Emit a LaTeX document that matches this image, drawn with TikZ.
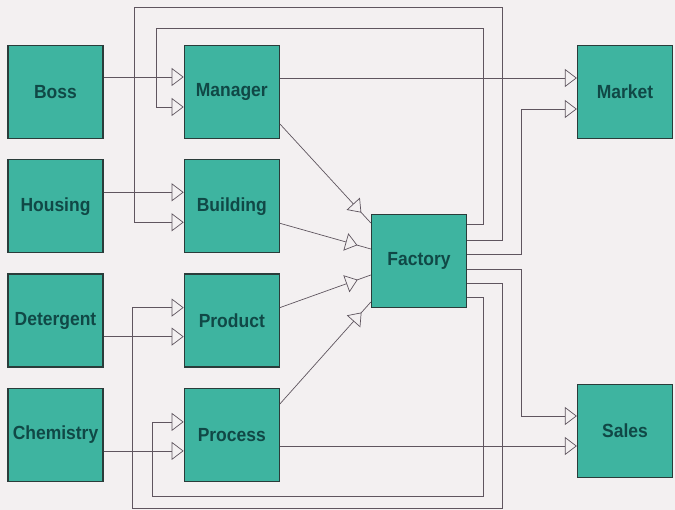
\documentclass[tikz,border=0pt]{standalone}
\usepackage{fontspec}
\setmainfont{Liberation Sans}[FakeStretch=0.92]
\usepackage{xcolor}
\usepackage{tikz}
\usetikzlibrary{arrows.meta,positioning,decorations.markings}

\definecolor{boxfill}{RGB}{62,180,160}
\definecolor{boxtext}{RGB}{16,72,70}
\definecolor{boxline}{RGB}{42,60,58}
\definecolor{paper}{RGB}{243,240,241}
\definecolor{wire}{RGB}{95,85,95}

\begin{document}
\begin{tikzpicture}[x=1pt, y=-1pt, node distance=20pt and 80pt,
    unit/.style={draw=boxline, line width=1.3pt, fill=boxfill, rectangle,
        minimum width=95pt, minimum height=93pt, inner sep=0pt,
        text=boxtext, font=\bfseries\fontsize{19}{20}\selectfont},
    inarr/.style={draw=wire, line width=0.7pt,
        -{Triangle[length=12pt, width=18pt, fill=paper]}},
    midarr/.style={draw=wire, line width=0.7pt, postaction={decorate},
        decoration={markings, mark=at position -14pt with
            {\arrow{Triangle[length=12pt, width=18pt, color=wire, fill=paper]}}}}]
    \fill[paper] (0,0) rectangle (675,510);
    \useasboundingbox (0,0) rectangle (675,510);

    \node[unit] (boss) at (55.5,92) {Boss};
    \node[unit, below=of boss] (housing) {Housing};
    \node[unit, below=of housing] (detergent) {Detergent};
    \node[unit, below=of detergent] (chemistry) {Chemistry};

    \node[unit, right=of boss] (manager) {Manager};
    \node[unit, right=of housing] (building) {Building};
    \node[unit, right=of detergent] (product) {Product};
    \node[unit, right=of chemistry] (process) {Process};

    \node[unit] (factory) at (419,261) {Factory};
    \node[unit] (market) at (625,92) {Market};
    \node[unit] (sales) at (625,431) {Sales};

    % input points
    \coordinate (mgr1) at ([yshift=15pt]manager.west);
    \coordinate (mgr2) at ([yshift=-15pt]manager.west);
    \coordinate (bld1) at ([yshift=14pt]building.west);
    \coordinate (bld2) at ([yshift=-16pt]building.west);
    \coordinate (prd1) at ([yshift=13pt]product.west);
    \coordinate (prd2) at ([yshift=-16pt]product.west);
    \coordinate (prc1) at ([yshift=13pt]process.west);
    \coordinate (prc2) at ([yshift=-16pt]process.west);
    \coordinate (mkt1) at ([yshift=14pt]market.west);
    \coordinate (mkt2) at ([yshift=-17pt]market.west);
    \coordinate (sal1) at ([yshift=15pt]sales.west);
    \coordinate (sal2) at ([yshift=-15pt]sales.west);

    % factory outputs
    \coordinate (f1) at ([yshift=37pt]factory.east);
    \coordinate (f2) at ([yshift=21pt]factory.east);
    \coordinate (f3) at ([yshift=7pt]factory.east);
    \coordinate (f4) at ([yshift=-8pt]factory.east);
    \coordinate (f5) at ([yshift=-22pt]factory.east);
    \coordinate (f6) at ([yshift=-36pt]factory.east);

    \draw[inarr] (boss.east |- mgr1) -- (mgr1);
    \draw[inarr] (housing.east |- bld1) -- (bld1);
    \draw[inarr] (detergent.east |- prd2) -- (prd2);
    \draw[inarr] (chemistry.east |- prc2) -- (prc2);

    \draw[inarr] (manager.east |- mkt1) -- (mkt1);
    \draw[inarr] (process.east |- sal2) -- (sal2);

    \draw[midarr] ([yshift=-32pt]manager.east) -- ([yshift=38pt]factory.west);
    \draw[midarr] ([yshift=-17pt]building.east) -- ([yshift=12pt]factory.west);
    \draw[midarr] ([yshift=13pt]product.east) -- ([yshift=-14pt]factory.west);
    \draw[midarr] ([yshift=31pt]process.east) -- ([yshift=-41pt]factory.west);

    % feedback loops
    \draw[inarr] (f1) -| (483,28) -| ([xshift=-27pt]mgr2) -- (mgr2);
    \draw[inarr] (f2) -| (502,7) -| ([xshift=-49pt]bld2) -- (bld2);
    \draw[inarr] (f3) -| ([xshift=-56pt]mkt2) -- (mkt2);
    \draw[inarr] (f4) -| ([xshift=-56pt]sal1) -- (sal1);
    \draw[inarr] (f5) -| (502,508) -| ([xshift=-51pt]prd1) -- (prd1);
    \draw[inarr] (f6) -| (483,496) -| ([xshift=-31pt]prc1) -- (prc1);
\end{tikzpicture}
\end{document}
